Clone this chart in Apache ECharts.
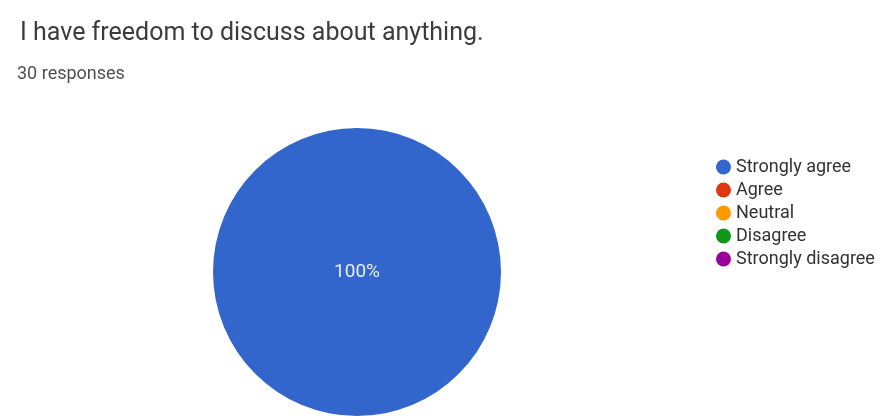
<!DOCTYPE html>
<html>
<head>
<meta charset="utf-8">
<script src="https://cdn.jsdelivr.net/npm/echarts@6/dist/echarts.min.js"></script>
<style>
  html, body { margin: 0; padding: 0; background: #fff; }
  #chart { width: 887px; height: 419px; }
</style>
</head>
<body>
<div id="chart"></div>
<script>
// answer options and response counts
const categories = ["Strongly agree", "Agree", "Neutral", "Disagree", "Strongly disagree"];
const counts = [30, 0, 0, 0, 0];
const colors = ["#3366cc", "#dc3912", "#ff9900", "#109618", "#990099"];

const total = counts.reduce((a, b) => a + b, 0);

let myChart = echarts.init(document.getElementById("chart"));
let option = {
  animation: false,
  title: [
    {
      text: "I have freedom to discuss about anything.",
      left: 15,
      top: 16,
      textStyle: { fontFamily: "Roboto", fontSize: 25, fontWeight: "normal", color: "#3c3c3c" }
    },
    {
      text: "30 responses",
      left: 12,
      top: 60,
      textStyle: { fontFamily: "Roboto", fontSize: 18, fontWeight: "normal", color: "#505050" }
    }
  ],
  legend: {
    orient: "vertical",
    left: 711,
    top: 153,
    icon: "circle",
    itemWidth: 15,
    itemHeight: 15,
    itemGap: 5,
    data: categories,
    textStyle: { fontFamily: "Roboto", fontSize: 18, color: "#333" }
  },
  series: [
    {
      type: "pie",
      center: [357, 272],
      radius: 144,
      startAngle: 90,
      avoidLabelOverlap: false,
      itemStyle: { borderWidth: 0 },
      labelLine: { show: false },
      data: categories.map((name, i) => ({
        name: name,
        value: counts[i],
        itemStyle: { color: colors[i] },
        label: {
          show: counts[i] > 0,
          position: "center",
          formatter: Math.round(counts[i] / total * 100) + "%",
          fontFamily: "Roboto",
          fontSize: 19,
          color: "#e8eefa"
        }
      }))
    }
  ]
};
myChart.setOption(option);
</script>
</body>
</html>
